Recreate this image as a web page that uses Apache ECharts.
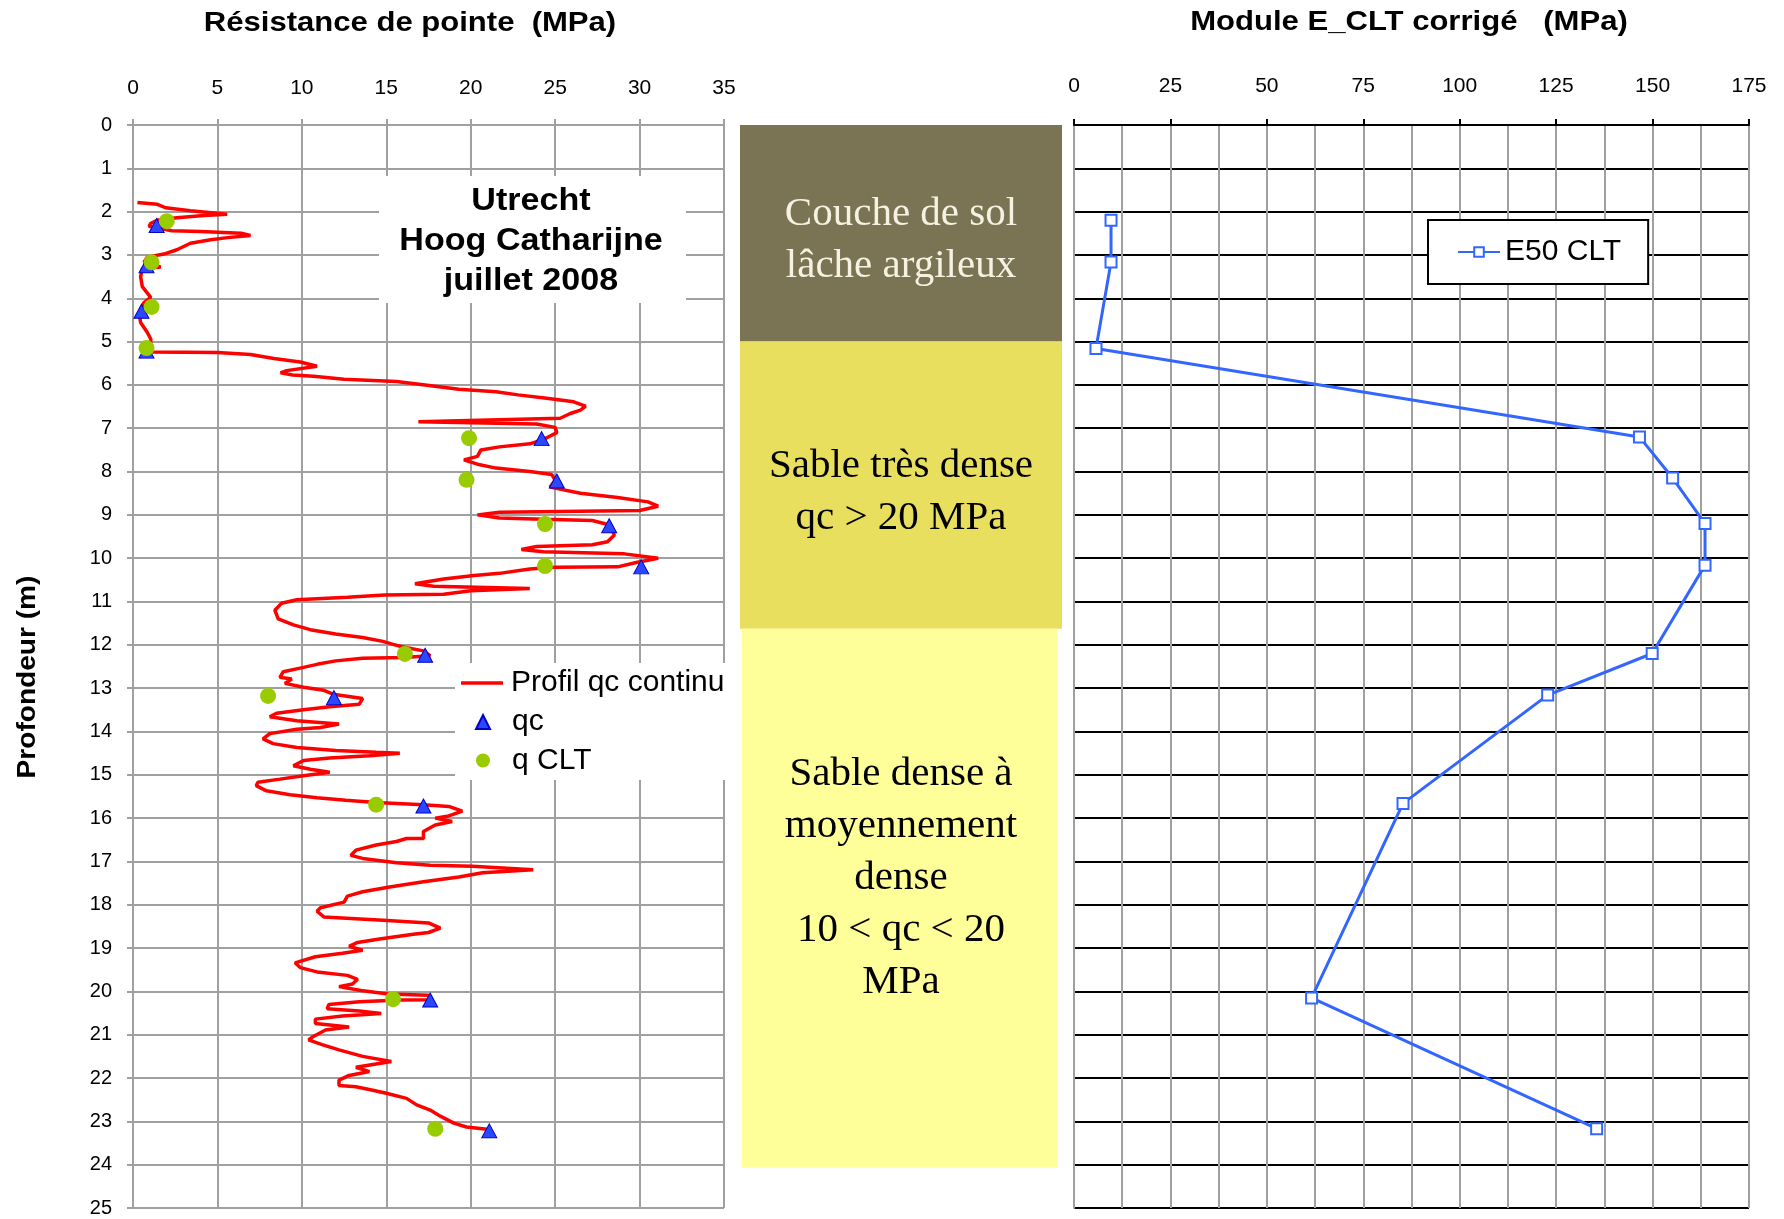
<!DOCTYPE html>
<html>
<head>
<meta charset="utf-8">
<script src="https://cdn.jsdelivr.net/npm/echarts@6/dist/echarts.min.js"></script>
<style>html,body{margin:0;padding:0;background:#fff}#c{width:1784px;height:1219px}</style>
</head>
<body>
<div id="c"></div>
<script>
// ---- DATA ----
// continuous CPT profile: [qc (MPa), depth (m)]
const qcProfile = [
[0.26,1.79],[1.44,1.83],[1.93,1.91],[3.4,1.98],[5.58,2.06],[4.2,2.09],[2.6,2.14],[1.5,2.19],[1.05,2.27],[0.95,2.34],
[1.5,2.38],[2.3,2.44],[4.0,2.46],[6.4,2.5],[6.96,2.55],[5.6,2.6],[4.6,2.65],[3.4,2.73],[2.6,2.88],[1.83,2.98],
[0.85,3.05],[0.65,3.17],[1.64,3.28],[0.55,3.32],[0.45,3.5],[0.55,3.73],[1.05,3.98],[0.65,4.1],[0.36,4.33],[0.45,4.56],
[0.85,4.79],[1.05,4.94],[1.05,5.24],[5.0,5.25],[6.96,5.3],[8.34,5.39],[9.9,5.47],[10.9,5.57],[9.1,5.67],[8.74,5.72],
[9.45,5.77],[10.7,5.8],[12.5,5.87],[15.6,5.92],[17.3,6.0],[19.3,6.1],[21.5,6.16],[22.8,6.23],[24.5,6.31],[26.1,6.39],
[26.8,6.49],[26.5,6.58],[25.9,6.66],[25.3,6.77],[16.9,6.85],[23.9,6.9],[25.0,6.98],[25.1,7.1],[24.3,7.26],[23.5,7.36],
[21.7,7.43],[20.6,7.5],[20.4,7.65],[19.6,7.73],[20.4,7.83],[21.5,7.92],[23.5,8.0],[24.8,8.07],[25.0,8.2],[24.7,8.36],
[26.5,8.5],[28.7,8.6],[30.5,8.7],[31.1,8.8],[30.0,8.9],[21.7,8.94],[20.4,9.0],[21.7,9.07],[24.3,9.1],[27.2,9.13],
[28.3,9.24],[28.5,9.47],[28.1,9.62],[27.2,9.69],[23.9,9.73],[23.0,9.8],[24.3,9.85],[29.1,9.9],[31.1,10.0],[29.8,10.1],
[28.7,10.2],[25.0,10.21],[23.5,10.25],[21.7,10.35],[20.2,10.4],[18.4,10.48],[16.7,10.59],[17.8,10.65],[23.5,10.7],[20.0,10.75],
[18.4,10.83],[14.9,10.85],[12.7,10.9],[9.7,10.96],[8.8,11.04],[8.4,11.2],[8.6,11.4],[9.5,11.54],[10.5,11.65],[12.0,11.75],
[13.6,11.83],[14.8,11.92],[15.4,11.99],[16.0,12.05],[17.2,12.14],[17.6,12.25],[16.0,12.29],[13.6,12.31],[12.0,12.37],[10.9,12.45],
[10.1,12.52],[8.9,12.62],[8.7,12.75],[9.4,12.79],[9.0,12.89],[10.1,12.98],[11.3,13.05],[11.85,13.14],[13.6,13.24],[13.4,13.37],
[11.65,13.43],[10.1,13.5],[8.5,13.58],[8.1,13.66],[9.7,13.75],[12.2,13.83],[11.1,13.91],[9.7,13.95],[8.1,14.05],[7.7,14.17],
[8.3,14.28],[9.7,14.37],[12.0,14.44],[14.4,14.48],[15.8,14.5],[14.0,14.56],[11.65,14.61],[10.1,14.67],[9.5,14.79],[10.5,14.87],
[11.65,14.94],[10.1,15.02],[8.7,15.1],[7.4,15.17],[7.3,15.25],[7.9,15.37],[9.3,15.46],[10.9,15.53],[12.6,15.59],[14.4,15.64],
[17.2,15.69],[18.7,15.73],[19.5,15.84],[18.7,15.95],[17.9,16.0],[18.9,16.08],[17.9,16.16],[17.2,16.31],[17.2,16.47],[16.2,16.47],
[15.6,16.54],[14.4,16.62],[13.2,16.74],[12.9,16.86],[13.6,16.93],[15.6,17.03],[17.6,17.09],[20.1,17.11],[23.7,17.19],[20.7,17.26],
[19.3,17.36],[17.2,17.47],[15.2,17.59],[13.6,17.7],[12.7,17.8],[12.5,17.94],[11.1,18.07],[10.9,18.15],[11.3,18.28],[14.8,18.36],
[17.5,18.42],[18.2,18.54],[17.5,18.64],[16.6,18.68],[14.6,18.79],[13.3,18.87],[12.8,18.96],[13.6,19.05],[12.4,19.12],[10.8,19.2],
[9.6,19.34],[9.9,19.45],[10.9,19.55],[12.7,19.63],[13.3,19.72],[13.0,19.83],[12.2,19.89],[13.5,19.98],[15.1,20.06],[17.5,20.09],
[17.7,20.19],[15.8,20.2],[13.4,20.24],[11.6,20.3],[11.5,20.4],[13.4,20.45],[14.7,20.51],[12.4,20.57],[10.8,20.64],[10.8,20.74],
[12.8,20.82],[11.4,20.89],[10.6,21.06],[10.4,21.12],[11.2,21.23],[12.2,21.35],[13.6,21.5],[15.3,21.62],[13.2,21.75],[14.0,21.85],
[12.8,21.94],[12.2,22.05],[12.2,22.17],[13.2,22.2],[14.2,22.28],[15.0,22.35],[16.2,22.47],[16.8,22.62],[17.6,22.74],[18.2,22.88],
[19.0,23.04],[19.75,23.13],[21.1,23.19]
];
// qc discrete points [MPa, depth]
const qcPoints = [[1.4,2.32],[0.8,3.25],[0.5,4.3],[0.8,5.22],[24.2,7.24],[25.1,8.22],[28.2,9.25],[30.1,10.2],[17.3,12.24],[11.9,13.22],[17.2,15.72],[17.6,20.2],[21.1,23.22]];
// q CLT points [MPa, depth]
const qCltPoints = [[2.0,2.22],[1.1,3.17],[1.1,4.2],[0.8,5.15],[19.9,7.23],[19.75,8.19],[24.4,9.21],[24.4,10.18],[16.1,12.21],[8.0,13.18],[14.4,15.69],[15.4,20.18],[17.9,23.17]];
// E50 CLT modulus [MPa, depth]
const e50Points = [[9.6,2.2],[9.6,3.16],[5.7,5.16],[146.6,7.2],[155.2,8.15],[163.6,9.2],[163.6,10.16],[149.9,12.2],[122.8,13.16],[85.3,15.66],[61.6,20.15],[135.5,23.17]];
// soil layers
const layerLabels = ['Couche de sol\nlâche argileux', 'Sable très dense\nqc > 20 MPa', 'Sable dense à\nmoyennement\ndense\n10 < qc < 20\nMPa'];
const layerTops = [0, 5.0, 11.63];
const layerBottoms = [5.0, 11.63, 24.07];
const seriesNames = ['Profil qc continu', 'qc', 'q CLT', 'E50 CLT'];
const titleLeft = 'Résistance de pointe  (MPa)';
const titleRight = 'Module E_CLT corrigé   (MPa)';
const depthName = 'Profondeur (m)';
const siteLines = 'Utrecht\nHoog Catharijne\njuillet 2008';

// ---- STYLE ----
const SANS = "'Liberation Sans', Arial, sans-serif";
const SERIF = "'Liberation Serif', 'Times New Roman', serif";
const GRAY = '#a0a0a0';
const layerStyles = [
  {fill:'#7a7455', color:'#f5f2e2', inset:[0,0], dy:7},
  {fill:'#e8df5e', color:'#000', inset:[0,0], dy:7},
  {fill:'#ffff99', color:'#000', inset:[2,5], dy:-20}
];

const chart = echarts.init(document.getElementById('c'), null, {renderer:'canvas'});

const gridCommon = {top:125, height:1083, containLabel:false, outerBoundsMode:'none'};
const legendText = {fontSize:30, fontFamily:SANS, color:'#000', lineHeight:30};
const option = {
  backgroundColor:'#fff',
  animation:false,
  grid:[
    Object.assign({left:133, width:591}, gridCommon),
    Object.assign({left:1074, width:675}, gridCommon),
    Object.assign({left:740, width:322}, gridCommon)
  ],
  xAxis:[
    {gridIndex:0, type:'value', position:'top', min:0, max:35, interval:5,
     axisLine:{show:true, onZero:false, lineStyle:{color:GRAY, width:2}},
     axisTick:{show:true, length:6, lineStyle:{color:GRAY, width:2}},
     axisLabel:{margin:26, fontSize:21, color:'#000', fontFamily:SANS},
     splitLine:{show:true, lineStyle:{color:GRAY, width:2}}},
    {gridIndex:1, type:'value', position:'top', min:0, max:175, interval:25,
     axisLine:{show:true, onZero:false, lineStyle:{color:'#000', width:2}},
     axisTick:{show:true, length:6, lineStyle:{color:'#000', width:2}},
     axisLabel:{margin:28, fontSize:21, color:'#000', fontFamily:SANS},
     minorTick:{show:false, splitNumber:2},
     minorSplitLine:{show:true, lineStyle:{color:GRAY, width:2}},
     splitLine:{show:true, lineStyle:{color:GRAY, width:2}}},
    {gridIndex:2, type:'value', min:0, max:1, show:false}
  ],
  yAxis:[
    {gridIndex:0, type:'value', inverse:true, min:0, max:25, interval:1,
     axisLine:{show:true, onZero:false, lineStyle:{color:GRAY, width:2}},
     axisTick:{show:true, length:6, lineStyle:{color:GRAY, width:2}},
     axisLabel:{margin:21, fontSize:20, color:'#000', fontFamily:SANS},
     splitLine:{show:true, lineStyle:{color:GRAY, width:2}}},
    {gridIndex:1, type:'value', inverse:true, min:0, max:25, interval:1,
     axisLine:{show:true, onZero:false, lineStyle:{color:GRAY, width:2}},
     axisTick:{show:false}, axisLabel:{show:false},
     splitLine:{show:true, lineStyle:{color:'#000', width:2}}},
    {gridIndex:2, type:'value', inverse:true, min:0, max:25, show:false}
  ],
  legend:[
    {data:[{name:seriesNames[0], icon:'rect'}], left:461, top:668, orient:'vertical', padding:0,
     itemWidth:42, itemHeight:3.5, selectedMode:false,
     textStyle:Object.assign({padding:[0,0,0,3]}, legendText), z:6},
    {data:[{name:seriesNames[1], icon:'triangle'}, {name:seriesNames[2], icon:'circle'}], left:475, top:707, orient:'vertical', padding:0,
     itemWidth:14, itemHeight:14, itemGap:8.5, selectedMode:false,
     textStyle:Object.assign({padding:[0,0,0,17]}, legendText), z:6},
    {data:[seriesNames[3]], left:1428, top:220, orient:'horizontal',
     backgroundColor:'#fff', borderColor:'#000', borderWidth:2, padding:[17,27,17,29],
     itemWidth:42, itemHeight:12, selectedMode:false, textStyle:legendText}
  ],
  series:[
    {type:'custom', name:'layers', xAxisIndex:2, yAxisIndex:2, silent:true,
     data: layerTops.map((t,i)=>[0, t, 1, layerBottoms[i], i]),
     encode:{x:[0,2], y:[1,3]},
     renderItem:function(params, api){
       const i = api.value(4);
       const p0 = api.coord([api.value(0), api.value(1)]);
       const p1 = api.coord([api.value(2), api.value(3)]);
       const st = layerStyles[i];
       return {type:'group', children:[
         {type:'rect', shape:{x:p0[0]+st.inset[0], y:p0[1], width:p1[0]-p0[0]-st.inset[0]-st.inset[1], height:p1[1]-p0[1]},
          style:{fill:st.fill}},
         {type:'text', x:(p0[0]+p1[0])/2, y:(p0[1]+p1[1])/2 + st.dy,
          style:{text:layerLabels[i], fill:st.color, font:'41px ' + SERIF, align:'center', verticalAlign:'middle', lineHeight:52}}
       ]};
     }},
    {type:'line', name:seriesNames[0], xAxisIndex:0, yAxisIndex:0, data:qcProfile, symbol:'none', showSymbol:false,
     lineStyle:{color:'#ff0000', width:3.5}, itemStyle:{color:'#ff0000'}, z:3},
    {type:'scatter', name:seriesNames[1], xAxisIndex:0, yAxisIndex:0, data:qcPoints, symbol:'triangle', symbolSize:[15,14],
     itemStyle:{color:'#2a48ff', borderColor:'#0000c8', borderWidth:1, opacity:1}, z:4},
    {type:'scatter', name:seriesNames[2], xAxisIndex:0, yAxisIndex:0, data:qCltPoints, symbol:'circle', symbolSize:16,
     itemStyle:{color:'#99cc00', opacity:1}, z:5},
    {type:'line', name:seriesNames[3], xAxisIndex:1, yAxisIndex:1, data:e50Points, symbol:'rect', symbolSize:11, showSymbol:true,
     lineStyle:{color:'#3366ff', width:3}, itemStyle:{color:'#fff', borderColor:'#3366ff', borderWidth:2}, z:3}
  ],
  graphic:[
    {type:'text', x:410, y:24, scaleX:1.15, style:{text:titleLeft, font:'bold 27px ' + SANS, fill:'#000', align:'center', verticalAlign:'middle'}},
    {type:'text', x:1409, y:23, scaleX:1.15, style:{text:titleRight, font:'bold 27px ' + SANS, fill:'#000', align:'center', verticalAlign:'middle'}},
    {type:'text', x:28, y:677, rotation:Math.PI/2, scaleX:1.08, style:{text:depthName, font:'bold 26px ' + SANS, fill:'#000', align:'center', verticalAlign:'middle'}},
    {type:'rect', z:3, shape:{x:379, y:176, width:307, height:127}, style:{fill:'#fff'}},
    {type:'text', z:4, x:531, y:241, scaleX:1.1, style:{text:siteLines, font:'bold 31px ' + SANS, fill:'#000', align:'center', verticalAlign:'middle', lineHeight:40}},
    {type:'rect', z:3, shape:{x:455, y:663, width:270, height:117}, style:{fill:'#fff'}}
  ]
};
chart.setOption(option);
</script>
</body>
</html>
